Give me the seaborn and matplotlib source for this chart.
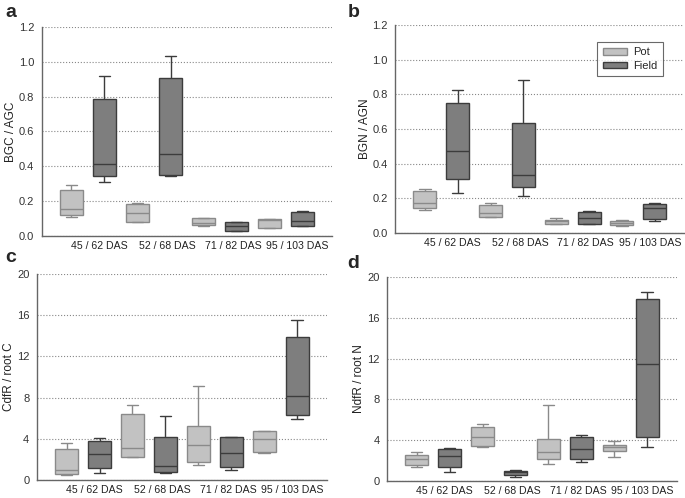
import matplotlib
matplotlib.use("Agg")
import matplotlib.pyplot as plt
from matplotlib.patches import Patch
import seaborn as sns
import pandas as pd

# time points shown on the x axis
stages = ["45 / 62 DAS", "52 / 68 DAS", "71 / 82 DAS", "95 / 103 DAS"]

# five-number summaries per stage: [min, q1, median, q3, max]
a_pot = [[0.109, 0.118, 0.155, 0.262, 0.292],
         [0.080, 0.082, 0.134, 0.185, 0.189],
         [0.055, 0.061, 0.075, 0.101, 0.103],
         [0.046, 0.048, 0.090, 0.097, 0.100]]
a_field = [[0.311, 0.344, 0.411, 0.785, 0.919],
           [0.346, 0.350, 0.470, 0.906, 1.034],
           [0.028, 0.031, 0.059, 0.080, 0.082],
           [0.055, 0.056, 0.086, 0.136, 0.143]]

b_pot = [[0.135, 0.144, 0.173, 0.240, 0.254],
         [0.090, 0.092, 0.115, 0.162, 0.173],
         [0.050, 0.054, 0.067, 0.077, 0.088],
         [0.042, 0.044, 0.056, 0.067, 0.073]]
b_field = [[0.231, 0.312, 0.473, 0.750, 0.823],
           [0.212, 0.265, 0.335, 0.635, 0.881],
           [0.050, 0.054, 0.085, 0.119, 0.125],
           [0.069, 0.081, 0.142, 0.169, 0.175]]

c_pot = [[0.48, 0.55, 0.96, 2.99, 3.60],
         [2.20, 2.28, 3.11, 6.42, 7.32],
         [1.44, 1.73, 3.40, 5.20, 9.15],
         [2.63, 2.70, 3.95, 4.72, 4.78]]
c_field = [[0.67, 1.19, 2.57, 3.79, 4.11],
           [0.67, 0.74, 1.38, 4.14, 6.23],
           [0.96, 1.25, 2.63, 4.20, 4.22],
           [5.97, 6.36, 8.19, 13.87, 15.50]]

d_pot = [[1.38, 1.57, 2.12, 2.54, 2.82],
         [3.31, 3.40, 4.27, 5.33, 5.55],
         [1.64, 2.21, 2.83, 4.08, 7.42],
         [2.34, 2.92, 3.31, 3.56, 3.95]]
d_field = [[0.93, 1.38, 2.44, 3.18, 3.24],
           [0.42, 0.61, 0.87, 1.00, 1.06],
           [1.89, 2.21, 3.11, 4.30, 4.53],
           [3.31, 4.27, 11.49, 17.82, 18.49]]

pot_fill, pot_line = "#c2c2c2", "#8a8a8a"
field_fill, field_line = "#7e7e7e", "#3c3c3c"

# each box gets its own slot: pot, field, pot, field ...
slots = []
for s in stages:
    slots += [s + " pot", s + " field"]


def to_long(pot, field):
    rows = []
    for i, s in enumerate(stages):
        for v in pot[i]:
            rows.append({"slot": s + " pot", "kind": "Pot", "value": v})
        for v in field[i]:
            rows.append({"slot": s + " field", "kind": "Field", "value": v})
    return pd.DataFrame(rows)


def draw_panel(ax, pot, field, ymax, ystep, ylabel, fmt):
    df = to_long(pot, field)
    for kind, fill, line in [("Pot", pot_fill, pot_line), ("Field", field_fill, field_line)]:
        sub = df[df["kind"] == kind]
        sns.boxplot(data=sub, x="slot", y="value", order=slots, ax=ax,
                    color=fill, linecolor=line, linewidth=1.0, width=0.7,
                    whis=(0, 100), showfliers=False, saturation=1)
    ax.set_xlim(-0.9, 7.9)
    ax.set_ylim(0, ymax)
    yt = [i * ystep for i in range(int(round(ymax / ystep)) + 1)]
    ax.set_yticks(yt)
    ax.set_yticklabels([fmt.format(v) for v in yt], fontsize=8, color="#333333")
    ax.set_xticks(range(8))
    ax.set_xticklabels([""] * 8)
    ax.set_xticks([0.85, 2.9, 4.9, 6.85], minor=True)
    ax.set_xticklabels(stages, minor=True, fontsize=7.6, color="#222222")
    ax.tick_params(axis="x", which="minor", length=0, pad=3.5)
    ax.tick_params(axis="x", which="major", length=3.5, color="#777777")
    ax.tick_params(axis="y", length=3.5, pad=2, color="#777777")
    ax.set_xlabel("")
    ax.set_ylabel(ylabel, fontsize=8.5, color="#222222", labelpad=1)
    ax.grid(axis="y", linestyle=":", color="#888888", linewidth=0.8)
    ax.set_axisbelow(True)
    for side in ["top", "right"]:
        ax.spines[side].set_visible(False)
    for side in ["left", "bottom"]:
        ax.spines[side].set_color("#666666")
        ax.spines[side].set_linewidth(1.0)


sns.set_style("white")
plt.rcParams["font.family"] = ["Liberation Sans", "DejaVu Sans"]

fig = plt.figure(figsize=(6.85, 4.98), dpi=100)
ax_a = fig.add_axes([0.061, 0.526, 0.424, 0.42])
ax_b = fig.add_axes([0.577, 0.532, 0.422, 0.418])
ax_c = fig.add_axes([0.054, 0.036, 0.423, 0.414])
ax_d = fig.add_axes([0.565, 0.034, 0.423, 0.41])

draw_panel(ax_a, a_pot, a_field, 1.2, 0.2, "BGC / AGC", "{:.1f}")
draw_panel(ax_b, b_pot, b_field, 1.2, 0.2, "BGN / AGN", "{:.1f}")
draw_panel(ax_c, c_pot, c_field, 20, 4, "CdfR / root C", "{:.0f}")
draw_panel(ax_d, d_pot, d_field, 20, 4, "NdfR / root N", "{:.0f}")

handles = [Patch(facecolor=pot_fill, edgecolor=pot_line, label="Pot"),
           Patch(facecolor=field_fill, edgecolor=field_line, label="Field")]
leg = ax_b.legend(handles=handles, loc="upper right", bbox_to_anchor=(0.945, 0.945),
                  fontsize=8, frameon=True, fancybox=False, handlelength=2.2,
                  handleheight=0.55, borderpad=0.5, labelspacing=0.3,
                  handletextpad=0.5)
leg.get_frame().set_edgecolor("#444444")
leg.get_frame().set_linewidth(0.8)

for letter, x, y in [("a", 0.008, 0.975), ("b", 0.507, 0.975),
                     ("c", 0.008, 0.482), ("d", 0.507, 0.47)]:
    fig.text(x, y, letter, fontsize=14, fontweight="bold", va="center")

fig.savefig("out.png", dpi=100)
